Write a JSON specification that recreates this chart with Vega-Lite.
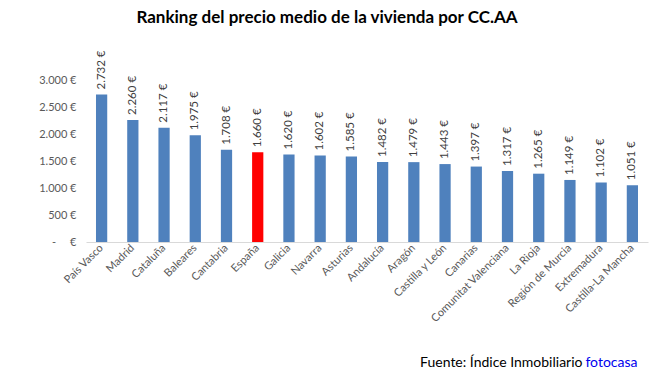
{
  "$schema": "https://vega.github.io/schema/vega-lite/v6.json",
  "width": 562,
  "height": 162,
  "autosize": {"type": "none"},
  "padding": {"left": 86, "top": 80, "right": 7, "bottom": 134},
  "background": "white",
  "title": {
    "text": "Ranking del precio medio de la vivienda por CC.AA",
    "font": "Lato",
    "fontSize": 17,
    "fontWeight": "bold",
    "color": "#000000",
    "anchor": "middle",
    "dx": -40,
    "offset": 23
  },
  "config": {
    "locale": {"number": {"decimal": ",", "thousands": ".", "grouping": [3], "currency": ["", " €"]}},
    "view": {"stroke": null},
    "font": "Lato"
  },
  "data": {
    "values": [
      {"region": "País Vasco", "precio": 2732, "tipo": "CCAA"},
      {"region": "Madrid", "precio": 2260, "tipo": "CCAA"},
      {"region": "Cataluña", "precio": 2117, "tipo": "CCAA"},
      {"region": "Baleares", "precio": 1975, "tipo": "CCAA"},
      {"region": "Cantabria", "precio": 1708, "tipo": "CCAA"},
      {"region": "España", "precio": 1660, "tipo": "España"},
      {"region": "Galicia", "precio": 1620, "tipo": "CCAA"},
      {"region": "Navarra", "precio": 1602, "tipo": "CCAA"},
      {"region": "Asturias", "precio": 1585, "tipo": "CCAA"},
      {"region": "Andalucía", "precio": 1482, "tipo": "CCAA"},
      {"region": "Aragón", "precio": 1479, "tipo": "CCAA"},
      {"region": "Castilla y León", "precio": 1443, "tipo": "CCAA"},
      {"region": "Canarias", "precio": 1397, "tipo": "CCAA"},
      {"region": "Comunitat Valenciana", "precio": 1317, "tipo": "CCAA"},
      {"region": "La Rioja", "precio": 1265, "tipo": "CCAA"},
      {"region": "Región de Murcia", "precio": 1149, "tipo": "CCAA"},
      {"region": "Extremadura", "precio": 1102, "tipo": "CCAA"},
      {"region": "Castilla-La Mancha", "precio": 1051, "tipo": "CCAA"}
    ]
  },
  "encoding": {
    "y": {
      "field": "precio",
      "type": "quantitative",
      "scale": {"domain": [0, 3000]},
      "axis": {
        "title": null,
        "values": [0, 500, 1000, 1500, 2000, 2500, 3000],
        "format": "$,.0f",
        "labelExpr": "datum.value === 0 ? '-\u00a0\u00a0\u00a0\u00a0\u00a0€' : datum.label",
        "labelFontSize": 11,
        "labelColor": "#595959",
        "labelPadding": 10,
        "grid": false,
        "ticks": false,
        "domain": false
      }
    }
  },
  "resolve": {"axis": {"x": "independent"}},
  "layer": [
    {
      "mark": {"type": "bar"},
      "encoding": {
        "x": {
          "field": "region",
          "type": "nominal",
          "sort": null,
          "scale": {"paddingInner": 0.64, "paddingOuter": 0.32},
          "axis": {
            "title": "Fuente: Índice Inmobiliario",
            "titleAnchor": "end",
            "titleAlign": "right",
            "titleBaseline": "alphabetic",
            "titleX": 496,
            "titleY": 124,
            "titleFont": "Lato",
            "titleFontSize": 14,
            "titleFontWeight": "normal",
            "titleColor": "#000000",
            "labelAngle": -45,
            "labelAlign": "right",
            "labelBaseline": "middle",
            "labelFontSize": 11,
            "labelColor": "#595959",
            "labelPadding": 4,
            "ticks": false,
            "domainColor": "#d9d9d9",
            "domainWidth": 1
          }
        },
        "color": {
          "field": "tipo",
          "type": "nominal",
          "scale": {"domain": ["CCAA", "España"], "range": ["#4f81bd", "#ff0000"]},
          "legend": null
        }
      }
    },
    {
      "mark": {"type": "text", "angle": 270, "align": "left", "baseline": "middle", "dx": 5, "fontSize": 11.5, "color": "#404040"},
      "encoding": {
        "x": {
          "field": "region",
          "type": "nominal",
          "sort": null,
          "axis": {
            "orient": "top",
            "title": "fotocasa",
            "titleAnchor": "end",
            "titleAlign": "right",
            "titleBaseline": "alphabetic",
            "titleX": 551,
            "titleY": 286,
            "titleFont": "Lato",
            "titleFontSize": 14,
            "titleFontWeight": "normal",
            "titleColor": "#0000ee",
            "labels": false,
            "ticks": false,
            "domain": false
          }
        },
        "text": {"field": "precio", "type": "quantitative", "format": "$,.0f"}
      }
    }
  ]
}
